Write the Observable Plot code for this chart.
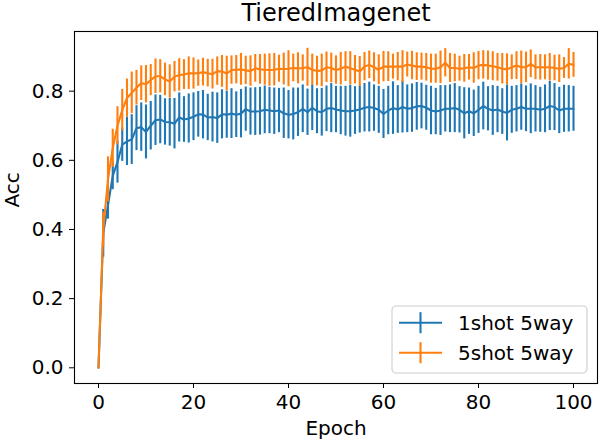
<!DOCTYPE html>
<html>
<head>
<meta charset="utf-8">
<script src="https://cdn.jsdelivr.net/npm/d3@7"></script>
<script src="https://cdn.jsdelivr.net/npm/@observablehq/plot@0.6"></script>
<style>
  html, body { margin: 0; padding: 0; background: white; }
  #chart { width: 608px; height: 444px; }
</style>
</head>
<body>
<div id="chart"></div>
<script>
const seriesNames = ["1shot 5way", "5shot 5way"];
const seriesColors = ["#1f77b4", "#ff7f0e"];
const xTicks = [0, 20, 40, 60, 80, 100];
const yTicks = [0, 0.2, 0.4, 0.6, 0.8];

const mean1shot = [
  0, 0.389, 0.47, 0.555, 0.595, 0.645, 0.655, 0.660, 0.693, 0.696,
  0.682, 0.700, 0.716, 0.718, 0.711, 0.710, 0.706, 0.724, 0.718, 0.721,
  0.726, 0.733, 0.732, 0.724, 0.725, 0.722, 0.733, 0.732, 0.735, 0.732,
  0.735, 0.748, 0.741, 0.741, 0.742, 0.746, 0.744, 0.742, 0.744, 0.736,
  0.732, 0.734, 0.739, 0.749, 0.739, 0.752, 0.742, 0.739, 0.749, 0.751,
  0.747, 0.744, 0.742, 0.742, 0.744, 0.747, 0.752, 0.754, 0.751, 0.746,
  0.734, 0.744, 0.751, 0.747, 0.754, 0.749, 0.751, 0.756, 0.757, 0.752,
  0.744, 0.741, 0.744, 0.749, 0.749, 0.751, 0.746, 0.736, 0.742, 0.736,
  0.746, 0.757, 0.749, 0.744, 0.747, 0.741, 0.737, 0.746, 0.749, 0.754,
  0.749, 0.749, 0.749, 0.746, 0.749, 0.757, 0.754, 0.744, 0.749, 0.749,
  0.749
];
const std1shot = [
  0, 0.069, 0.04, 0.04, 0.061, 0.048, 0.07, 0.072, 0.065, 0.07,
  0.078, 0.07, 0.073, 0.07, 0.067, 0.069, 0.073, 0.071, 0.066, 0.071,
  0.069, 0.066, 0.07, 0.067, 0.072, 0.073, 0.071, 0.068, 0.072, 0.066,
  0.07, 0.064, 0.068, 0.069, 0.069, 0.069, 0.067, 0.067, 0.064, 0.073,
  0.07, 0.075, 0.07, 0.069, 0.067, 0.066, 0.065, 0.069, 0.066, 0.071,
  0.067, 0.07, 0.072, 0.075, 0.069, 0.068, 0.07, 0.072, 0.067, 0.068,
  0.071, 0.07, 0.076, 0.069, 0.075, 0.069, 0.07, 0.069, 0.066, 0.065,
  0.07, 0.067, 0.072, 0.067, 0.069, 0.071, 0.067, 0.074, 0.067, 0.067,
  0.068, 0.069, 0.064, 0.072, 0.067, 0.066, 0.081, 0.068, 0.067, 0.067,
  0.066, 0.072, 0.067, 0.065, 0.069, 0.071, 0.068, 0.067, 0.068, 0.067,
  0.065
];
const mean5shot = [
  0, 0.40, 0.545, 0.635, 0.70, 0.745, 0.78, 0.795, 0.81, 0.823,
  0.82, 0.832, 0.843, 0.843, 0.834, 0.828, 0.842, 0.847, 0.848, 0.852,
  0.851, 0.852, 0.855, 0.852, 0.849, 0.858, 0.857, 0.851, 0.861, 0.862,
  0.863, 0.86, 0.858, 0.866, 0.863, 0.862, 0.861, 0.862, 0.865, 0.864,
  0.865, 0.867, 0.866, 0.867, 0.869, 0.862, 0.858, 0.86, 0.869, 0.867,
  0.861, 0.865, 0.871, 0.866, 0.862, 0.857, 0.871, 0.876, 0.869, 0.862,
  0.871, 0.871, 0.871, 0.871, 0.871, 0.877, 0.874, 0.871, 0.871, 0.869,
  0.865, 0.865, 0.869, 0.882, 0.867, 0.867, 0.865, 0.866, 0.869, 0.867,
  0.874, 0.876, 0.874, 0.872, 0.869, 0.865, 0.863, 0.869, 0.874, 0.869,
  0.869, 0.879, 0.869, 0.869, 0.869, 0.869, 0.867, 0.865, 0.867, 0.879,
  0.876
];
const std5shot = [
  0, 0.05, 0.065, 0.055, 0.055, 0.06, 0.055, 0.06, 0.05, 0.05,
  0.054, 0.045, 0.05, 0.048, 0.047, 0.048, 0.044, 0.047, 0.043, 0.047,
  0.045, 0.038, 0.04, 0.04, 0.043, 0.041, 0.046, 0.05, 0.041, 0.041,
  0.046, 0.041, 0.044, 0.04, 0.043, 0.045, 0.047, 0.047, 0.039, 0.046,
  0.052, 0.04, 0.045, 0.038, 0.055, 0.045, 0.043, 0.047, 0.044, 0.043,
  0.041, 0.047, 0.043, 0.048, 0.041, 0.043, 0.041, 0.04, 0.042, 0.043,
  0.044, 0.043, 0.036, 0.041, 0.046, 0.036, 0.041, 0.04, 0.039, 0.04,
  0.042, 0.042, 0.047, 0.041, 0.042, 0.04, 0.036, 0.04, 0.037, 0.044,
  0.041, 0.041, 0.042, 0.042, 0.04, 0.044, 0.045, 0.036, 0.04, 0.047,
  0.044, 0.04, 0.036, 0.037, 0.036, 0.04, 0.037, 0.04, 0.03, 0.044,
  0.036
];

function rowsOf(means, stds) {
  return means.map((m, i) => ({epoch: i, mean: m, lo: m - stds[i], hi: m + stds[i]}));
}
const rows1 = rowsOf(mean1shot, std1shot);
const rows5 = rowsOf(mean5shot, std5shot);

const W = 608, H = 444;
const mL = 74, mR = 11, mT = 31, mB = 61;

const chart = Plot.plot({
  width: W,
  height: H,
  marginLeft: mL,
  marginRight: mR,
  marginTop: mT,
  marginBottom: mB,
  style: {fontFamily: "DejaVu Sans", fontSize: "20px", color: "black", background: "white", overflow: "visible"},
  x: {domain: [-5.05, 105.05], label: null},
  y: {domain: [-0.0454, 0.9725], label: null},
  marks: [
    Plot.ruleX(rows1, {x: "epoch", y1: "lo", y2: "hi", stroke: seriesColors[0], strokeWidth: 2.1}),
    Plot.line(rows1, {x: "epoch", y: "mean", stroke: seriesColors[0], strokeWidth: 2.1}),
    Plot.ruleX(rows5, {x: "epoch", y1: "lo", y2: "hi", stroke: seriesColors[1], strokeWidth: 2.1}),
    Plot.line(rows5, {x: "epoch", y: "mean", stroke: seriesColors[1], strokeWidth: 2.1}),
    Plot.frame({stroke: "black", strokeWidth: 1.1}),
    Plot.axisX({ticks: xTicks, tickSize: 5, tickPadding: 6, tickFormat: d3.format("d"), label: null, fontSize: 20}),
    Plot.axisY({ticks: yTicks, tickSize: 5, tickPadding: 6, tickFormat: d3.format(".1f"), label: null, fontSize: 20}),
    Plot.text(["TieredImagenet"], {text: d => d, frameAnchor: "top", dy: -17.7, lineAnchor: "middle", fontSize: 24}),
    Plot.text(["Epoch"], {text: d => d, frameAnchor: "bottom", dy: 44.8, lineAnchor: "middle", fontSize: 20}),
    Plot.text(["Acc"], {text: d => d, frameAnchor: "left", dx: -62, rotate: -90, lineAnchor: "middle", fontSize: 20})
  ]
});
document.getElementById("chart").appendChild(chart);

// Legend (lower right), matplotlib style
const svg = d3.select(chart);
const lg = svg.append("g").attr("class", "legend").attr("text-anchor", "start");
const box = {x: 392, y: 306, w: 195, h: 67};
lg.append("rect")
  .attr("x", box.x).attr("y", box.y).attr("width", box.w).attr("height", box.h)
  .attr("rx", 4).attr("ry", 4)
  .style("fill", "white").style("fill-opacity", 0.8)
  .style("stroke", "#cccccc").style("stroke-width", "1.1px");
seriesNames.forEach((name, i) => {
  const cy = 322.7 + i * 30;
  const g = lg.append("g");
  g.append("line").attr("x1", 399).attr("x2", 442).attr("y1", cy).attr("y2", cy)
    .style("stroke", seriesColors[i]).style("stroke-width", "2.1px");
  g.append("line").attr("x1", 420.5).attr("x2", 420.5).attr("y1", cy - 10.5).attr("y2", cy + 10.5)
    .style("stroke", seriesColors[i]).style("stroke-width", "2.1px");
  g.append("text").attr("x", 458).attr("y", cy + 7.2)
    .attr("text-anchor", "start")
    .style("font-family", "DejaVu Sans").style("font-size", "20px").style("fill", "black")
    .text(name);
});
</script>
</body>
</html>
